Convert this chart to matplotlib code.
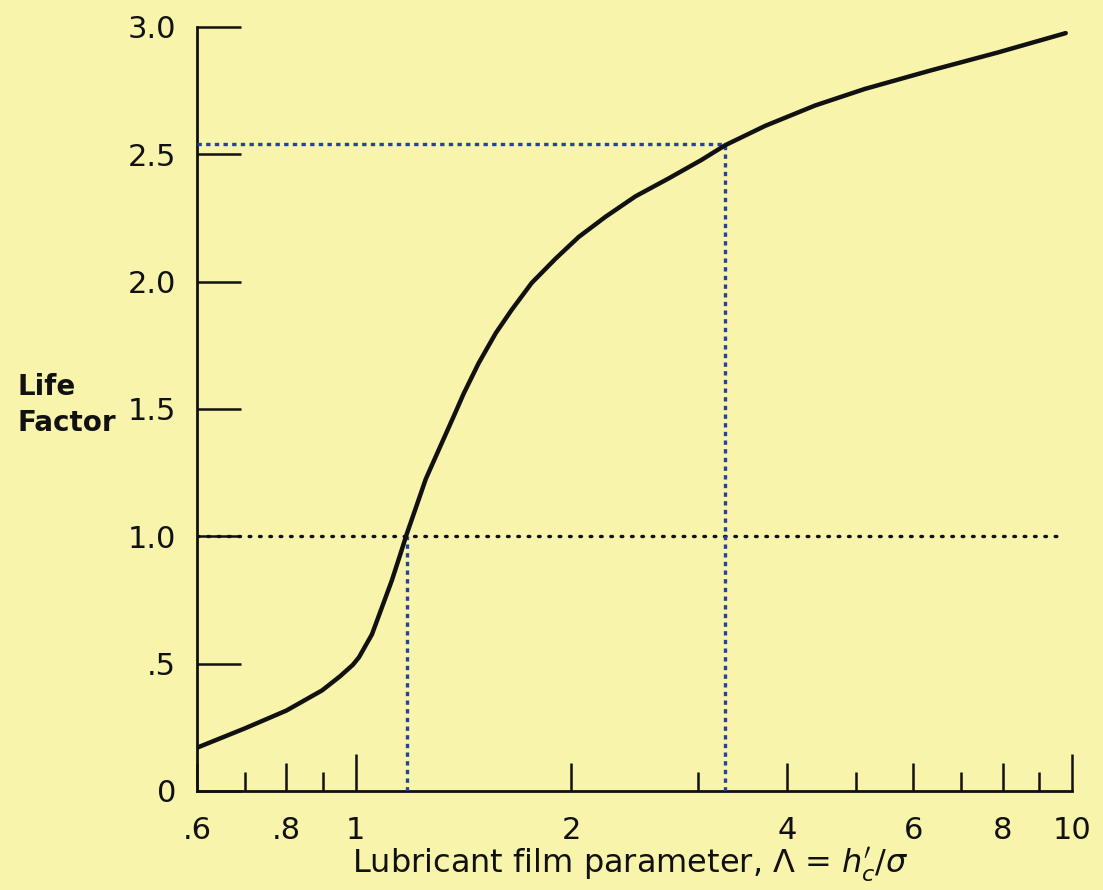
import matplotlib
matplotlib.use("Agg")
import matplotlib.pyplot as plt
from matplotlib.ticker import FixedLocator, FixedFormatter, NullLocator

plt.rcParams['font.family'] = ['DejaVu Sans']
plt.rcParams['mathtext.fontset'] = 'dejavusans'

# ---- data ----
film_param = [0.60, 0.70, 0.80, 0.897, 0.95, 0.99, 1.01, 1.053, 1.087, 1.123,
              1.155, 1.178, 1.212, 1.252, 1.305, 1.379, 1.414, 1.484, 1.568,
              1.65, 1.76, 1.90, 2.046, 2.232, 2.457, 2.732, 3.038, 3.28, 3.73,
              4.38, 5.14, 6.36, 7.88, 9.80]
life_factor = [0.17, 0.246, 0.316, 0.395, 0.45, 0.495, 0.525, 0.615, 0.72, 0.828,
               0.934, 1.01, 1.11, 1.225, 1.339, 1.49, 1.56, 1.68, 1.798,
               1.889, 1.995, 2.09, 2.175, 2.255, 2.335, 2.405, 2.478, 2.536, 2.612,
               2.692, 2.757, 2.83, 2.90, 2.976]

y_ticks = [0, 0.5, 1.0, 1.5, 2.0, 2.5, 3.0]
y_tick_labels = ['0', '.5', '1.0', '1.5', '2.0', '2.5', '3.0']

x_label_ticks = [0.6, 0.8, 1, 2, 4, 6, 8, 10]
x_tick_labels = ['.6', '.8', '1', '2', '4', '6', '8', '10']
x_long_ticks = [1, 10]
x_short_ticks = [0.7, 0.9, 3, 5, 7, 9]

unity_level = 1.0
unity_end = 9.6
cross_unity_x = 1.18
marked_x = 3.28
marked_y = 2.54

bg = '#f8f4ac'
blue = '#24429b'
ink = '#111111'

fig = plt.figure(figsize=(11.03, 8.90), dpi=100, facecolor=bg)
ax = fig.add_axes([197/1103, 1-791/890, (1072-197)/1103, (791-27)/890])
ax.set_facecolor(bg)
ax.set_xscale('log')
ax.set_xlim(0.6, 10)
ax.set_ylim(0, 3.0)

for s in ['top', 'right']:
    ax.spines[s].set_visible(False)
for s in ['left', 'bottom']:
    ax.spines[s].set_linewidth(2.0)
    ax.spines[s].set_color(ink)

# reference lines
ax.plot([film_param[0], unity_end], [unity_level, unity_level], color=ink,
        lw=2.4, linestyle=(0, (0.5, 2.6)), dash_capstyle='round', zorder=2)
ax.plot([film_param[0], marked_x], [marked_y, marked_y], color=blue, lw=2.4,
        linestyle=(0, (1.3, 1.3)), zorder=3)
ax.plot([cross_unity_x, cross_unity_x], [0, unity_level], color=blue, lw=2.4,
        linestyle=(0, (1.3, 1.3)), zorder=3)
ax.plot([marked_x, marked_x], [0, marked_y], color=blue, lw=2.4,
        linestyle=(0, (1.3, 1.3)), zorder=3)

# curve
ax.plot(film_param, life_factor, color=ink, lw=3.2, solid_joinstyle='round',
        solid_capstyle='round', zorder=4)

# y axis ticks
ax.yaxis.set_major_locator(FixedLocator(y_ticks))
ax.yaxis.set_major_formatter(FixedFormatter(y_tick_labels))
ax.yaxis.set_minor_locator(NullLocator())
ax.tick_params(axis='y', direction='in', length=32, width=1.8, pad=15,
               labelsize=22, colors=ink)

# x axis ticks
ax.xaxis.set_major_locator(FixedLocator(x_label_ticks))
ax.xaxis.set_major_formatter(FixedFormatter(x_tick_labels))
ax.xaxis.set_minor_locator(FixedLocator(x_short_ticks))
ax.xaxis.set_minor_formatter(FixedFormatter([''] * len(x_short_ticks)))
ax.tick_params(axis='x', which='major', direction='in', length=20, width=1.8,
               pad=18, labelsize=22, colors=ink)
ax.tick_params(axis='x', which='minor', direction='in', length=13.5, width=1.8,
               colors=ink)
for t, loc in zip(ax.xaxis.get_major_ticks(), x_label_ticks):
    if loc in x_long_ticks:
        t.tick1line.set_markersize(27)
for lab in ax.get_xticklabels() + ax.get_yticklabels():
    lab.set_clip_on(False)

fig.text(17/1103, 1-405/890, 'Life\nFactor', ha='left', va='center',
         fontsize=20, fontweight='bold', color=ink, linespacing=1.4)
fig.text(630/1103, 1-865/890,
         r"Lubricant film parameter, $\Lambda$ = $h^{\prime}_{c}/\sigma$",
         ha='center', va='center', fontsize=23, color=ink)

fig.savefig('out.png', dpi=100, facecolor=bg)
